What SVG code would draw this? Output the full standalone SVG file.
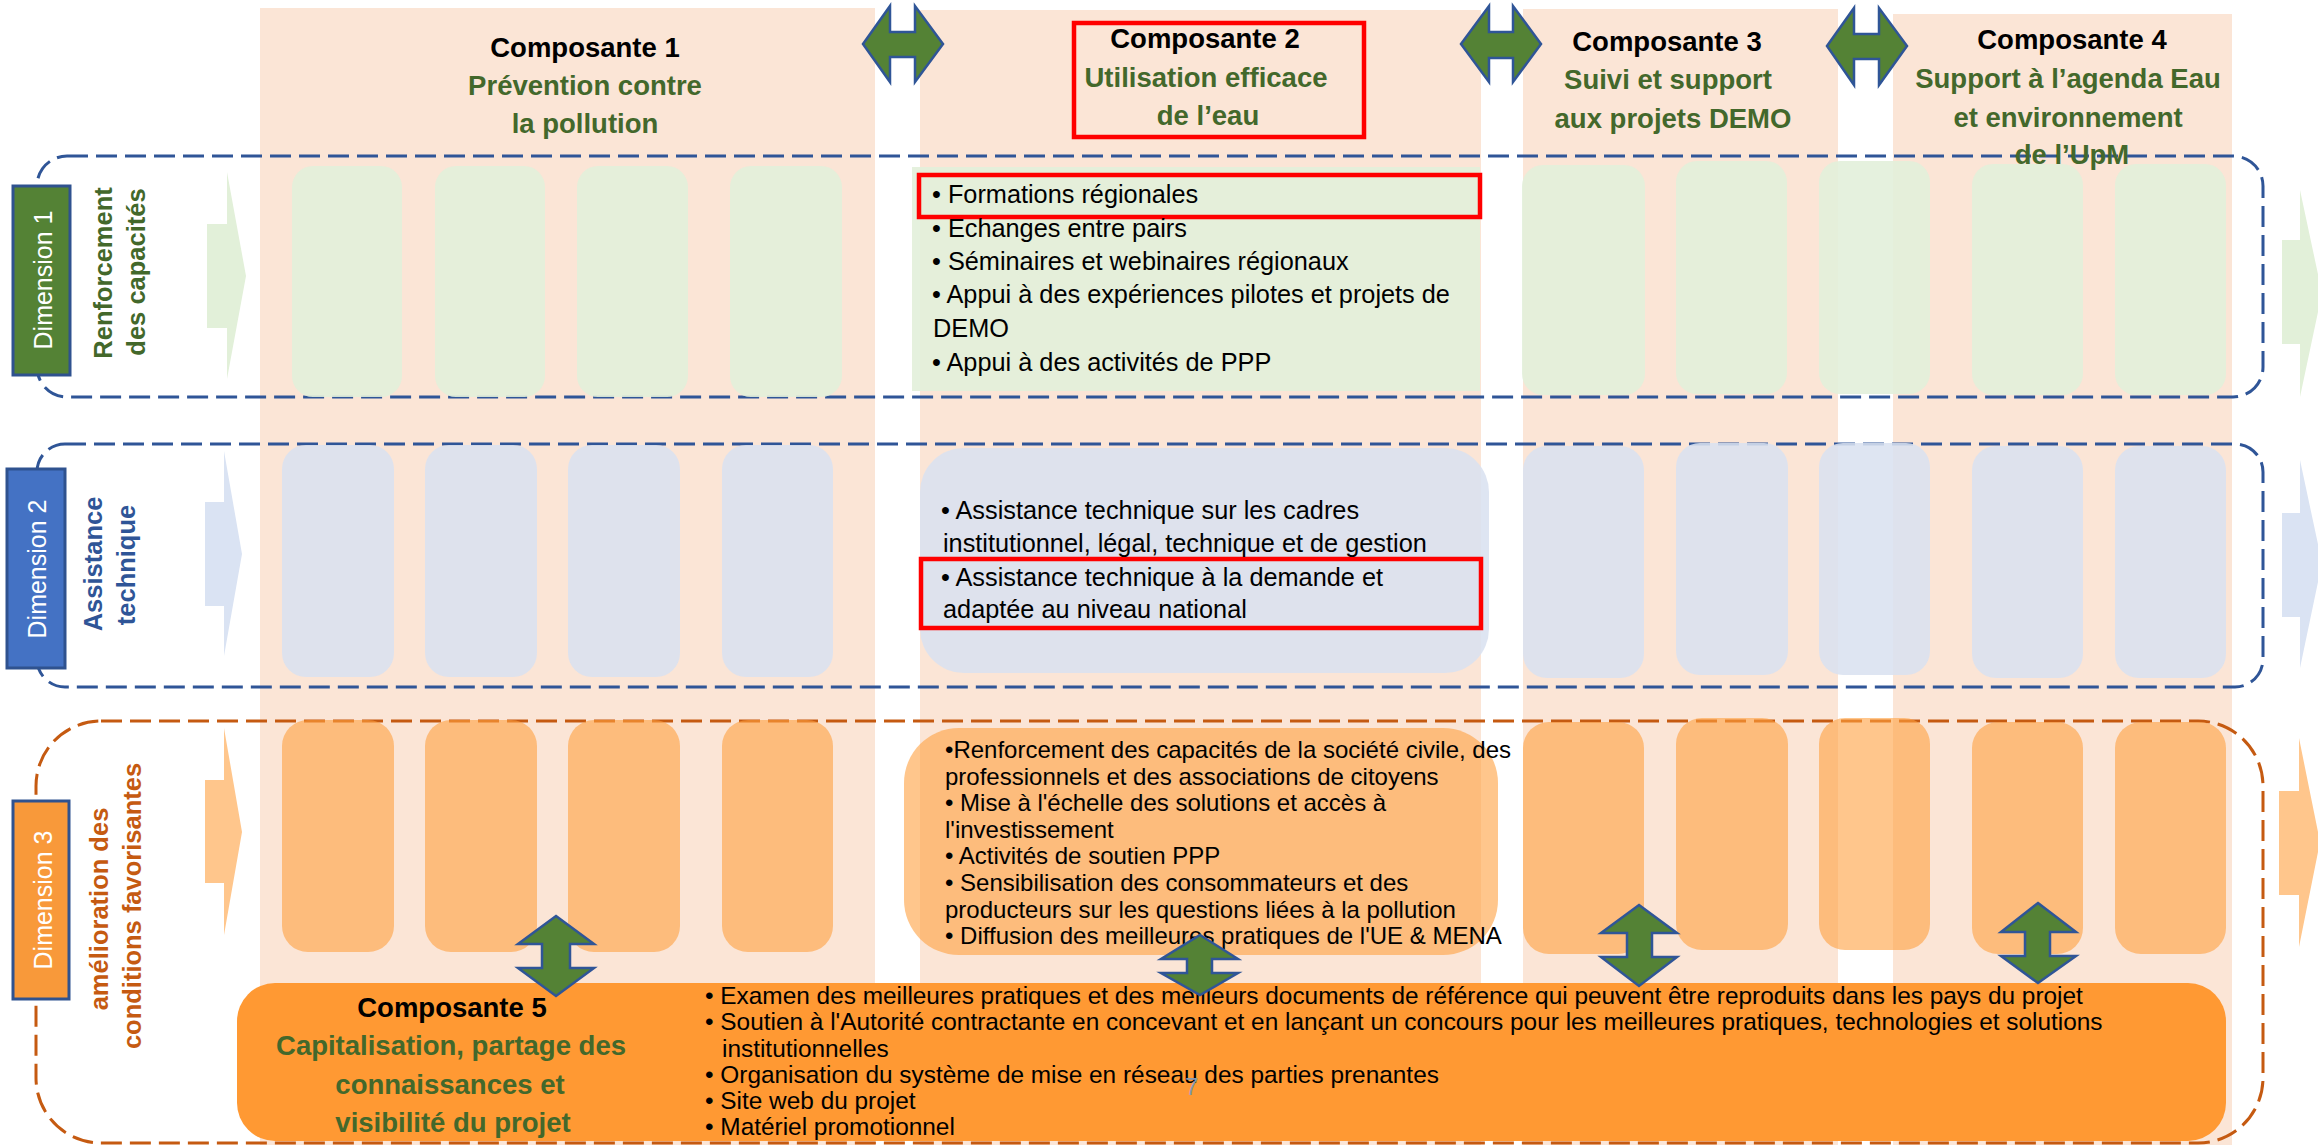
<svg xmlns="http://www.w3.org/2000/svg" width="2318" height="1145" viewBox="0 0 2318 1145">
<defs>
<style>
text{font-family:"Liberation Sans",Arial,sans-serif;}
.col{fill:#FBE5D6;}
.frameB{fill:none;stroke:#2F5597;stroke-width:3;stroke-dasharray:21 8;}
.frameO{fill:none;stroke:#C55A11;stroke-width:3;stroke-dasharray:21 8;}
.g{fill:#E2EFDA;opacity:0.9;}
.b{fill:#DAE1F0;opacity:0.88;}
.o{fill:#FFA040;opacity:0.6;}
.hd{font-size:27.5px;font-weight:bold;text-anchor:middle;fill:#000;}
.hg{font-size:27.5px;font-weight:bold;text-anchor:middle;fill:#43682B;}
.t1{font-size:25.3px;fill:#000;}
.t3{font-size:24px;fill:#000;}
.t5{font-size:24.4px;fill:#000;}
.red{fill:none;stroke:#FF0000;stroke-width:4.5;}
.arr{fill:#548235;stroke:#2F5597;stroke-width:2.5;stroke-linejoin:miter;}
.dimlab{font-size:25px;fill:#FFFFFF;text-anchor:middle;}
.dimt{font-size:25.5px;font-weight:bold;text-anchor:middle;}
.dbox{stroke:#2F528F;stroke-width:3;}
</style>
</defs>

<g id="columns">
<rect class="col" x="260" y="8" width="615" height="1137"/>
<rect class="col" x="920" y="10" width="561" height="1135"/>
<rect class="col" x="1523" y="9" width="315" height="1136"/>
<rect class="col" x="1893" y="14" width="339" height="1131"/>
</g>

<g id="frames">
<rect class="frameB" x="37" y="156" width="2226" height="241" rx="30"/>
<rect class="frameB" x="37" y="444" width="2226" height="243" rx="28"/>
<rect class="frameO" x="36" y="721" width="2227" height="422" rx="65"/>
</g>

<g id="row-arrows">
<polygon fill="#E2F0D9" points="207,224 227,224 227,172 246,276 227,379 227,328 207,328"/>
<polygon fill="#E2F0D9" points="2282,240 2300,240 2300,190 2322,293 2300,397 2300,344 2282,344"/>
<polygon fill="#DAE3F3" points="205,502 224,502 224,451 242,554 224,656 224,606 205,606"/>
<polygon fill="#DAE3F3" points="2282,513 2300,513 2300,460 2322,563 2300,668 2300,617 2282,617"/>
<polygon fill="#FFC68C" points="205,780 224,780 224,728 242,832 224,935 224,883 205,883"/>
<polygon fill="#FFC68C" points="2279,791 2299,791 2299,738 2320,842 2299,947 2299,895 2279,895"/>
</g>

<g id="row1-cells">
<rect class="g" x="292" y="166" width="110" height="231" rx="21"/>
<rect class="g" x="435" y="166" width="110" height="231" rx="21"/>
<rect class="g" x="577" y="166" width="111" height="231" rx="21"/>
<rect class="g" x="730" y="166" width="112" height="231" rx="21"/>
<rect class="g" x="1522" y="165" width="123" height="230" rx="21"/>
<rect class="g" x="1676" y="161" width="111" height="233" rx="21"/>
<rect class="g" x="1819" y="161" width="111" height="233" rx="21"/>
<rect class="g" x="1972" y="164" width="111" height="231" rx="21"/>
<rect class="g" x="2115" y="164" width="111" height="231" rx="21"/>
</g>

<g id="row2-cells">
<rect class="b" x="282" y="445" width="112" height="232" rx="24"/>
<rect class="b" x="425" y="445" width="112" height="232" rx="24"/>
<rect class="b" x="568" y="445" width="112" height="232" rx="24"/>
<rect class="b" x="722" y="445" width="111" height="232" rx="24"/>
<rect class="b" x="1523" y="446" width="121" height="232" rx="24"/>
<rect class="b" x="1676" y="443" width="112" height="232" rx="24"/>
<rect class="b" x="1819" y="443" width="111" height="232" rx="24"/>
<rect class="b" x="1972" y="446" width="111" height="232" rx="24"/>
<rect class="b" x="2115" y="446" width="111" height="232" rx="24"/>
</g>

<g id="row3-cells">
<rect class="o" x="282" y="720" width="112" height="232" rx="26"/>
<rect class="o" x="425" y="720" width="112" height="232" rx="26"/>
<rect class="o" x="568" y="720" width="112" height="232" rx="26"/>
<rect class="o" x="722" y="720" width="111" height="232" rx="26"/>
<rect class="o" x="1523" y="722" width="121" height="232" rx="26"/>
<rect class="o" x="1676" y="718" width="112" height="232" rx="26"/>
<rect class="o" x="1819" y="718" width="111" height="232" rx="26"/>
<rect class="o" x="1972" y="722" width="111" height="232" rx="26"/>
<rect class="o" x="2115" y="722" width="111" height="232" rx="26"/>
</g>

<g id="c2-dim1">
<rect class="g" x="912" y="167" width="568" height="224"/>
<rect class="red" x="919" y="175" width="561" height="42"/>
<text class="t1" x="932" y="203">• Formations régionales</text>
<text class="t1" x="932" y="237">• Echanges entre pairs</text>
<text class="t1" x="932" y="270">• Séminaires et webinaires régionaux</text>
<text class="t1" x="932" y="303">• Appui à des expériences pilotes et projets de</text>
<text class="t1" x="933" y="337">DEMO</text>
<text class="t1" x="932" y="371">• Appui à des activités de PPP</text>
</g>

<g id="c2-dim2">
<rect class="b" x="920" y="448" width="569" height="225" rx="44"/>
<rect class="red" x="921" y="559" width="560" height="69"/>
<text class="t1" x="941" y="519">•  Assistance technique sur les cadres</text>
<text class="t1" x="943" y="552">institutionnel, légal, technique et de gestion</text>
<text class="t1" x="941" y="586">• Assistance technique à la demande et</text>
<text class="t1" x="943" y="618">adaptée au niveau national</text>
</g>

<g id="c2-dim3">
<rect class="o" x="904" y="728" width="594" height="227" rx="55"/>
<text class="t3" x="945" y="758">•Renforcement des capacités de la société civile, des</text>
<text class="t3" x="945" y="784.6">professionnels et des associations de citoyens</text>
<text class="t3" x="945" y="811.2">• Mise à l'échelle des solutions et accès à</text>
<text class="t3" x="945" y="837.8">l'investissement</text>
<text class="t3" x="945" y="864.4">• Activités de soutien PPP</text>
<text class="t3" x="945" y="891">• Sensibilisation des consommateurs et des</text>
<text class="t3" x="945" y="917.6">producteurs sur les questions liées à la pollution</text>
<text class="t3" x="945" y="944.2">• Diffusion des meilleures pratiques de l'UE &amp; MENA</text>
</g>

<g id="comp1">
<text class="hd" x="585" y="57">Composante 1</text>
<text class="hg" x="585" y="95">Prévention contre</text>
<text class="hg" x="585" y="133">la pollution</text>
</g>
<g id="comp2">
<rect class="red" x="1074" y="23" width="290" height="114"/>
<text class="hd" x="1205" y="48">Composante 2</text>
<text class="hg" x="1206" y="87">Utilisation efficace</text>
<text class="hg" x="1208" y="125">de l’eau</text>
</g>
<g id="comp3">
<text class="hd" x="1667" y="51">Composante 3</text>
<text class="hg" x="1668" y="89">Suivi et support</text>
<text class="hg" x="1673" y="128">aux projets DEMO</text>
</g>
<g id="comp4">
<text class="hd" x="2072" y="49">Composante 4</text>
<text class="hg" x="2068" y="88">Support à l’agenda Eau</text>
<text class="hg" x="2068" y="127">et environnement</text>
<text class="hg" x="2072" y="164">de l’UpM</text>
</g>

<g id="comp5">
<rect x="237" y="983" width="1989" height="158" rx="38" fill="#FF9933"/>
<text class="hd" x="452" y="1017">Composante 5</text>
<text class="hg" x="451" y="1055">Capitalisation, partage des</text>
<text class="hg" x="450" y="1094">connaissances et</text>
<text class="hg" x="453" y="1132">visibilité du projet</text>
<text class="t5" x="705" y="1004">• Examen des meilleures pratiques et des meilleurs documents de référence qui peuvent être reproduits dans les pays du projet</text>
<text class="t5" x="705" y="1030">• Soutien à l'Autorité contractante en concevant et en lançant un concours pour les meilleures pratiques, technologies et solutions</text>
<text class="t5" x="722" y="1057">institutionnelles</text>
<text class="t5" x="705" y="1083">• Organisation du système de mise en réseau des parties prenantes</text>
<text class="t5" x="705" y="1109">• Site web du projet</text>
<text class="t5" x="705" y="1135">• Matériel promotionnel</text>
</g>

<g id="dimension1">
<rect class="dbox" x="13" y="186" width="57" height="189" fill="#548235"/>
<text class="dimlab" transform="translate(52,280) rotate(-90)">Dimension 1</text>
<text class="dimt" fill="#43682B" transform="translate(112,273) rotate(-90)">Renforcement</text>
<text class="dimt" fill="#43682B" transform="translate(145,272) rotate(-90)">des capacités</text>
</g>
<g id="dimension2">
<rect class="dbox" x="7" y="469" width="58" height="199" fill="#4472C4"/>
<text class="dimlab" transform="translate(46,569) rotate(-90)">Dimension 2</text>
<text class="dimt" fill="#2F5597" transform="translate(102,564) rotate(-90)">Assistance</text>
<text class="dimt" fill="#2F5597" transform="translate(135,565) rotate(-90)">technique</text>
</g>
<g id="dimension3">
<rect class="dbox" x="13" y="801" width="56" height="198" fill="#F8993A"/>
<text class="dimlab" transform="translate(52,900) rotate(-90)">Dimension 3</text>
<text class="dimt" fill="#C55A11" transform="translate(108,909) rotate(-90)">amélioration des</text>
<text class="dimt" fill="#C55A11" transform="translate(141,906) rotate(-90)">conditions favorisantes</text>
</g>

<g id="connectors">
<polygon class="arr" points="863,44 890,6 890,32 915,32 915,6 943,44 915,82 915,57 890,57 890,82"/>
<polygon class="arr" points="1461,44 1489,6 1489,32 1513,32 1513,6 1541,44 1513,82 1513,58 1489,58 1489,82"/>
<polygon class="arr" points="1827,46 1854,8 1854,34 1879,34 1879,8 1907,46 1879,85 1879,59 1854,59 1854,85"/>
<polygon class="arr" points="556,916 594,944 570,944 570,968 594,968 556,996 518,968 542,968 542,944 518,944"/>
<polygon class="arr" points="1200,935 1238,959 1212,959 1212,973 1238,973 1200,995 1161,973 1187,973 1187,959 1161,959"/>
<polygon class="arr" points="1639,905 1677,933 1652,933 1652,957 1677,957 1639,986 1601,957 1627,957 1627,933 1601,933"/>
<polygon class="arr" points="2038,903 2076,932 2050,932 2050,956 2076,956 2038,983 2001,956 2025,956 2025,932 2001,932"/>
</g>

<text x="1185" y="1095" font-size="24" fill="#8497B0">7</text>
</svg>
